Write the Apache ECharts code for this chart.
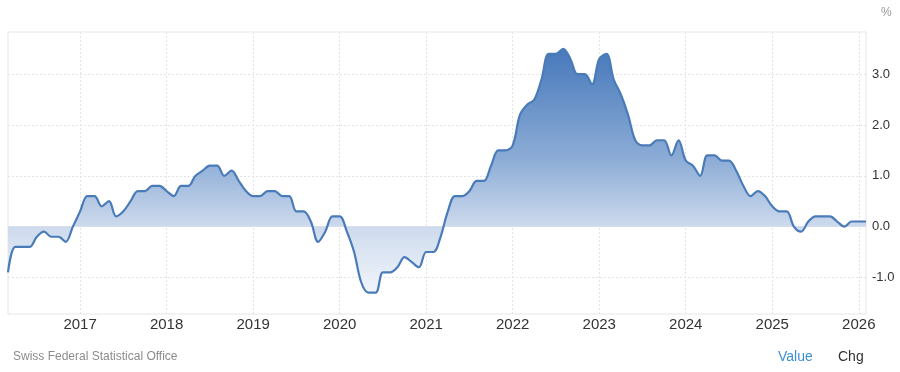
<!DOCTYPE html>
<html>
<head>
<meta charset="utf-8">
<script src="https://cdn.jsdelivr.net/npm/echarts@6/dist/echarts.min.js"></script>
<style>
html,body{margin:0;padding:0;background:#fff;}
#chart{width:900px;height:372px;}
</style>
</head>
<body>
<div id="chart"></div>
<script>
// Swiss inflation rate, monthly, Mar 2016 - Feb 2026 (%)
var startYear = 2016;
var startMonth = 3;
var values = [
  -0.9, -0.4, -0.4, -0.4, -0.2, -0.1, -0.2, -0.2, -0.3, 0.0,          // 2016 Mar-Dec
  0.3, 0.6, 0.6, 0.4, 0.5, 0.2, 0.3, 0.5, 0.7, 0.7, 0.8, 0.8,          // 2017
  0.7, 0.6, 0.8, 0.8, 1.0, 1.1, 1.2, 1.2, 1.0, 1.1, 0.9, 0.7,          // 2018
  0.6, 0.6, 0.7, 0.7, 0.6, 0.6, 0.3, 0.3, 0.1, -0.3, -0.1, 0.2,        // 2019
  0.2, -0.1, -0.5, -1.1, -1.3, -1.3, -0.9, -0.9, -0.8, -0.6, -0.7, -0.8, // 2020
  -0.5, -0.5, -0.2, 0.3, 0.6, 0.6, 0.7, 0.9, 0.9, 1.2, 1.5, 1.5,       // 2021
  1.6, 2.2, 2.4, 2.5, 2.9, 3.4, 3.4, 3.5, 3.3, 3.0, 3.0, 2.8,          // 2022
  3.3, 3.4, 2.9, 2.6, 2.2, 1.7, 1.6, 1.6, 1.7, 1.7, 1.4, 1.7,          // 2023
  1.3, 1.2, 1.0, 1.4, 1.4, 1.3, 1.3, 1.1, 0.8, 0.6, 0.7, 0.6,          // 2024
  0.4, 0.3, 0.3, 0.0, -0.1, 0.1, 0.2, 0.2, 0.2, 0.1, 0.0, 0.1,         // 2025
  0.1, 0.1                                                             // 2026 Jan-Feb
];
var yTickValues = [-1, 0, 1, 2, 3];
var yMin = -1.72;
var yMax = 3.83;
var unitLabel = '%';
var sourceText = 'Swiss Federal Statistical Office';
var tabLabels = ['Value', 'Chg'];

var categories = [];
(function () {
  var y = startYear, m = startMonth;
  for (var i = 0; i < values.length; i++) {
    categories.push(y + '-' + (m < 10 ? '0' + m : m));
    m++;
    if (m > 12) { m = 1; y++; }
  }
})();

function isYearStart(idx) {
  return categories[idx].slice(5) === '01';
}

var chart = echarts.init(document.getElementById('chart'), null, {renderer: 'canvas'});
var font = '"Liberation Sans", Arial, sans-serif';

chart.setOption({
  animation: false,
  backgroundColor: '#ffffff',
  textStyle: {fontFamily: font},
  grid: {
    left: 8, right: 34, top: 32, bottom: 58,
    show: true, borderColor: '#e6e6e6', borderWidth: 1, backgroundColor: 'transparent'
  },
  xAxis: {
    type: 'category',
    data: categories,
    boundaryGap: false,
    axisLine: {show: true, lineStyle: {color: '#e3e3e3', width: 1}},
    axisTick: {show: false},
    axisLabel: {
      interval: function (idx) { return isYearStart(idx); },
      formatter: function (v) { return v.slice(0, 4); },
      color: '#333333', fontSize: 15, margin: 3, fontFamily: font
    },
    splitLine: {
      show: true,
      interval: function (idx) { return isYearStart(idx); },
      lineStyle: {color: '#e4e4e4', type: [2, 2], width: 1}
    }
  },
  yAxis: {
    type: 'value',
    position: 'right',
    min: yMin,
    max: yMax,
    axisLine: {show: false},
    axisTick: {show: false},
    splitLine: {show: false},
    axisLabel: {
      customValues: yTickValues,
      formatter: function (v) { return v.toFixed(1); },
      color: '#333333', fontSize: 13, margin: 6, fontFamily: font
    }
  },
  series: [{
    type: 'line',
    data: values.map(function () { return null; }),
    symbol: 'none',
    silent: true,
    lineStyle: {opacity: 0},
    markLine: {
      silent: true,
      z: 1,
      symbol: 'none',
      label: {show: false},
      lineStyle: {color: '#e4e4e4', type: [2, 2], width: 1},
      data: yTickValues.map(function (v) { return {yAxis: v}; })
    },
    z: 1
  }, {
    type: 'line',
    data: values,
    smooth: 0.35,
    symbol: 'none',
    lineStyle: {color: '#4a7bb9', width: 2.2},
    areaStyle: {
      opacity: 1,
      color: new echarts.graphic.LinearGradient(0, 32, 0, 314, [
        {offset: 0, color: 'rgb(66,114,180)'},
        {offset: 0.1, color: 'rgb(78,126,190)'},
        {offset: 0.45, color: 'rgb(140,172,214)'},
        {offset: 0.69, color: 'rgb(205,218,237)'},
        {offset: 1, color: 'rgb(253,254,255)'}
      ], true)
    },
    z: 3
  }],
  graphic: [
    {type: 'text', left: 881, top: 7, style: {text: unitLabel, fill: '#999999', font: '12px ' + font}},
    {type: 'text', left: 13, top: 351, style: {text: sourceText, fill: '#8c8c8c', font: '12px ' + font}},
    {type: 'text', left: 778, top: 350, style: {text: tabLabels[0], fill: '#3b8fd9', font: '14px ' + font}},
    {type: 'text', left: 838, top: 350, style: {text: tabLabels[1], fill: '#333333', font: '14px ' + font}}
  ]
});
</script>
</body>
</html>
